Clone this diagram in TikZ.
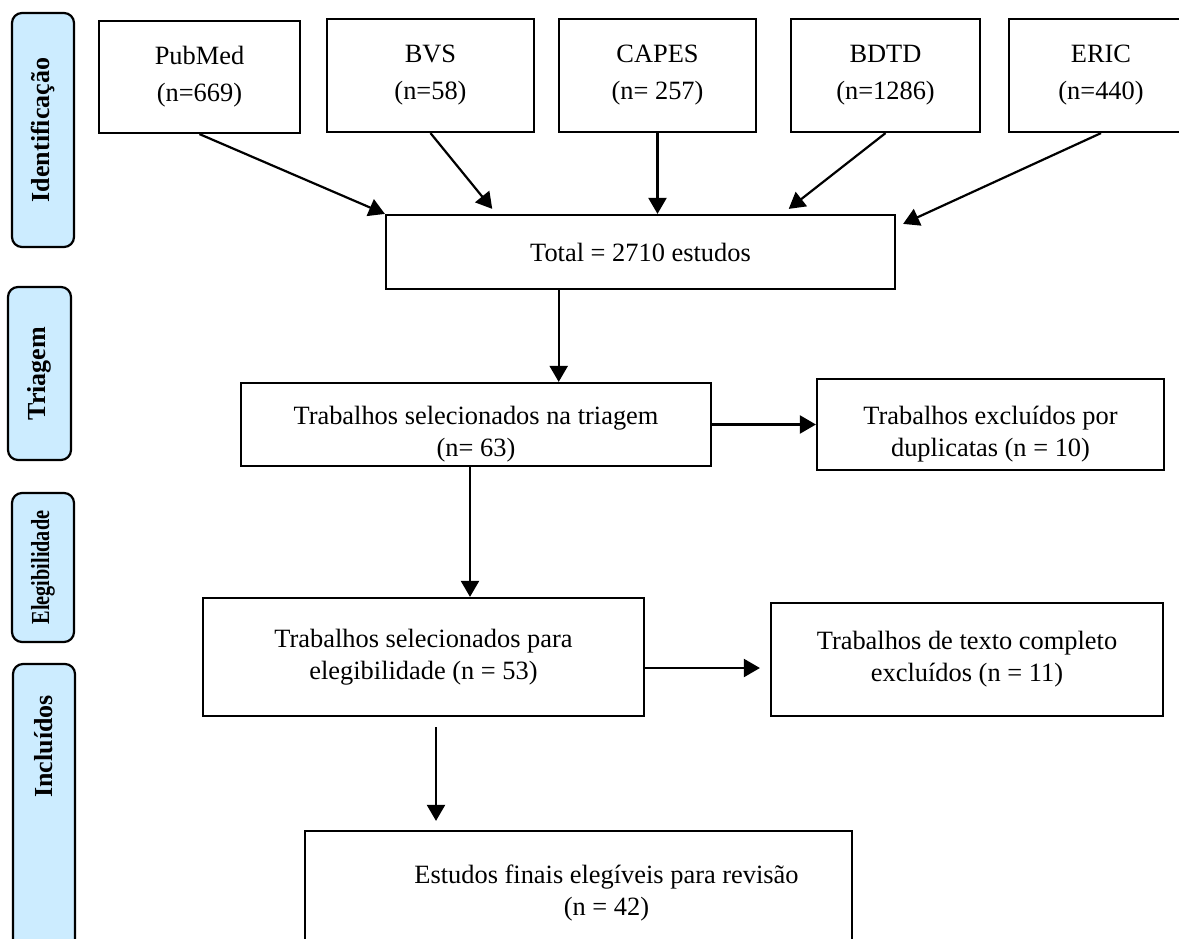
\documentclass[tikz,border=0pt]{standalone}
\usepackage{graphicx}
\usepackage{fontspec}
\setmainfont{Liberation Serif}
\usetikzlibrary{arrows.meta,calc}
\definecolor{stageblue}{RGB}{204,236,255}

\tikzset{
	srcbox/.style={draw, line width=1.1pt, align=center, inner sep=0pt, font=\fontsize{13.2}{18.5}\selectfont},
	stepbox/.style={draw, line width=1.1pt, align=center, inner sep=0pt, font=\fontsize{13.2}{16}\selectfont},
	steptext/.style={align=center, inner sep=0pt, font=\fontsize{13.2}{16}\selectfont},
	stage/.style={draw, line width=1.1pt, rounded corners=5pt, fill=stageblue, rotate=90, inner sep=0pt, font=\fontsize{13}{15}\selectfont\bfseries},
	arr/.style={line width=1.1pt, -{Triangle[length=8pt,width=9pt]}}
}

\begin{document}
\begin{tikzpicture}[x=0.5pt,y=-0.5pt]
		%%%%% START %%%%%
		\useasboundingbox (0,0) rectangle (1179,938);
		\clip (0,0) rectangle (1179,938);
		
		% stages
		\node[stage, minimum width=117pt, minimum height=31pt] (ident) at (43,130) {Identificação};
		\node[stage, minimum width=86.5pt, minimum height=31.5pt] (triag) at (39.5,373.5) {Triagem};
		\node[stage, minimum width=74.5pt, minimum height=31pt] (eleg) at (43,567.5) {\scalebox{0.78}[1]{Elegibilidade}};
		\node[stage, minimum width=158pt, minimum height=31pt, text width=127pt, align=right] (incl) at (44,822) {Incluídos};
		
		% sources
		\node[srcbox, minimum width=100.5pt, minimum height=56pt] (pubmed) at (199.5,77) {PubMed\\(n=669)};
		\node[srcbox, minimum width=103.5pt, minimum height=56.5pt] (bvs) at (430.5,75.5) {BVS\\(n=58)};
		\node[srcbox, minimum width=98.5pt, minimum height=56.5pt] (capes) at (657.5,75.5) {CAPES\\(n= 257)};
		\node[srcbox, minimum width=94.5pt, minimum height=56.5pt] (bdtd) at (885.5,75.5) {BDTD\\(n=1286)};
		\node[srcbox, minimum width=92pt, minimum height=56.5pt] (eric) at (1101,75.5) {ERIC\\(n=440)};
		
		\node[stepbox, minimum width=254.5pt, minimum height=37pt] (total) at (640.5,252) {Total = 2710 estudos};
		
		\draw[arr] (pubmed.south) -- (total.north west);
		\draw[arr] (bvs.south) -- ($(total.north west)!0.21!(total.north east)+(0,-5)$);
		\draw[arr] (capes.south) -- (capes.south |- total.north);
		\draw[arr] (bdtd.south) -- ($(total.north west)!0.79!(total.north east)+(0,-5)$);
		\draw[arr] (eric.south) -- ($(total.north east)+(7,10)$);
		
		% screening
		\node[stepbox, minimum width=235pt, minimum height=41.5pt,
			label={[steptext, yshift=-5pt]center:{Trabalhos selecionados na triagem\\(n= 63)}}] (sel1) at (476,424.5) {};
		\node[stepbox, minimum width=173.5pt, minimum height=45.5pt,
			label={[steptext, yshift=-5pt]center:{Trabalhos excluídos por\\duplicatas (n = 10)}}] (dup) at (990.5,424.5) {};
		
		\coordinate (t1) at ($(total.south west)!0.34!(total.south east)$);
		\draw[arr] (t1) -- (t1 |- sel1.north);
		\draw[arr] (sel1.east) -- (dup.west);
		
		% eligibility
		\node[stepbox, minimum width=220.5pt, minimum height=59pt] (sel2) at (423.5,657) {Trabalhos selecionados para\\elegibilidade (n = 53)};
		\node[stepbox, minimum width=196pt, minimum height=56.5pt] (full) at (967,659.5) {Trabalhos de texto completo\\excluídos (n = 11)};
		
		\coordinate (s1) at ([xshift=-3pt]sel1.south);
		\draw[arr] (s1) -- (s1 |- sel2.north);
		\coordinate (e2) at ([yshift=-5.5pt]sel2.east);
		\draw[arr] (e2) -- ([xshift=-5pt]full.west |- e2);
		
		% included
		\node[stepbox, minimum width=273.5pt, minimum height=64pt,
			label={[steptext, xshift=14pt, yshift=1pt]center:{Estudos finais elegíveis para revisão\\(n = 42)}}] (final) at (578.5,895) {};
		
		\coordinate (s2) at ([xshift=6.25pt,yshift=-5pt]sel2.south);
		\draw[arr] (s2) -- ([yshift=4.5pt]s2 |- final.north);
		%%%%% END %%%%%
\end{tikzpicture}
\end{document}
